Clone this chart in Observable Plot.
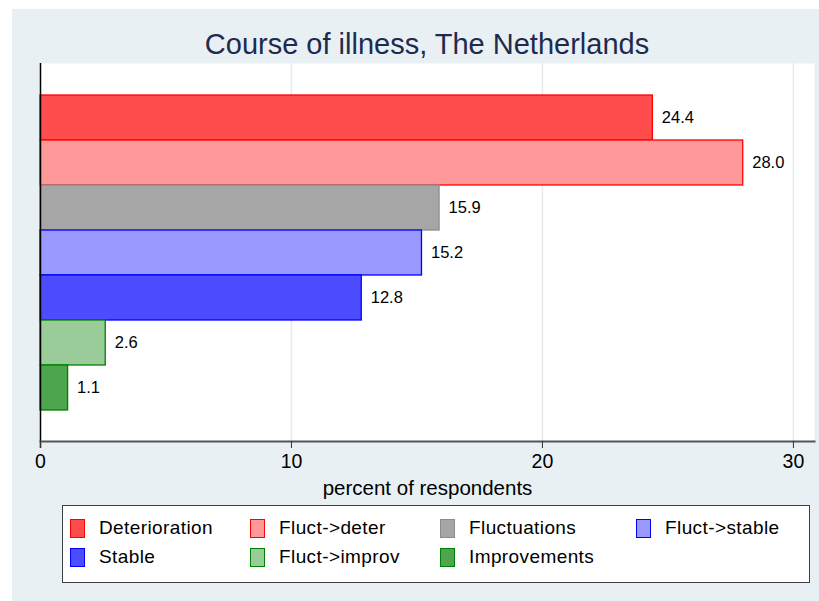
<!DOCTYPE html>
<html><head><meta charset="utf-8">
<script src="https://cdn.jsdelivr.net/npm/d3@7"></script>
<script src="https://cdn.jsdelivr.net/npm/@observablehq/plot@0.6"></script>
<style>
html,body{margin:0;padding:0;background:#fff;}
#page{position:relative;width:819px;height:601px;overflow:hidden;background:#fff;font-family:"Liberation Sans",Arial,sans-serif;}
#bg{position:absolute;left:12px;top:9px;right:0;bottom:0;background:#e8f0f3;}
#title{position:absolute;left:40px;width:774px;top:30px;line-height:29px;text-align:center;font-size:29px;color:#1e2b4f;}
#chart{position:absolute;left:0;top:0;}
#legend{position:absolute;left:62px;top:505px;width:748px;height:78px;background:#fff;border:1.5px solid #404040;box-sizing:border-box;}
.item{position:absolute;font-size:19px;letter-spacing:0.4px;color:#000;white-space:nowrap;}
.sw{position:absolute;width:15px;height:19px;box-sizing:border-box;border:1.5px solid;}
</style></head>
<body>
<div id="page">
  <div id="bg"></div>
  <div id="title">Course of illness, The Netherlands</div>
  <div id="chart"></div>
  <div id="legend"></div>
</div>
<script>
const categories = ["Deterioration","Fluct->deter","Fluctuations","Fluct->stable","Stable","Fluct->improv","Improvements"];
const values = [24.4, 28.0, 15.9, 15.2, 12.8, 2.6, 1.1];
const fills = ["#ff4d4d","#ff9999","#a6a6a6","#9999ff","#4d4dff","#99cc99","#4da64d"];
const strokes = ["#ff0000","#ff0000","#8c8c8c","#0000ff","#0000ff","#008000","#008000"];
const xTicks = [0,10,20,30];

const data = categories.map((c,i)=>({cat:c, value:values[i], fill:fills[i], stroke:strokes[i]}));

const plot = Plot.plot({
  width: 819,
  height: 510,
  marginLeft: 40,
  marginRight: 5,
  marginTop: 63,
  marginBottom: 69,
  style: {background:"transparent", fontFamily:"Liberation Sans, Arial, sans-serif"},
  x: {domain:[0, 30.84], ticks: xTicks},
  y: {domain: categories, paddingInner: 0, paddingOuter: 0.68, axis: null},
  marks: [
    Plot.frame({fill:"#fff", stroke:"none"}),
    Plot.gridX([10,20,30], {stroke:"#e3ebef", strokeOpacity:1, strokeWidth:1.5}),
    Plot.barX(data, {y:"cat", x:"value", fill:"fill", stroke:"stroke", strokeWidth:1.3}),
    Plot.text(data, {y:"cat", x:"value", text:d=>d.value.toFixed(1), dx:9, textAnchor:"start", fontSize:16.5, fill:"#000"}),
    Plot.ruleX([0], {stroke:"#000", strokeWidth:1.5, insetBottom:-7}),
    Plot.frame({anchor:"bottom", stroke:"#555", strokeWidth:2}),
    Plot.axisX(xTicks, {tickSize:7, tickPadding:6, fontSize:19.5, stroke:"#333", label:"percent of respondents", labelAnchor:"center", labelArrow:"none", labelOffset:53})
  ]
});
document.getElementById("chart").appendChild(plot);
plot.querySelectorAll('g[aria-label="x-axis label"] text').forEach(t=>t.setAttribute("font-size","20.5"));

const leg = document.getElementById("legend");
const colX = [7, 187, 377, 573];
const rowY = [11, 40];
categories.forEach((c,i)=>{
  const col = i % 4, row = Math.floor(i/4);
  const sw = document.createElement("div");
  sw.className = "sw";
  sw.style.left = colX[col] + "px";
  sw.style.top = (rowY[row]+2) + "px";
  sw.style.background = fills[i];
  sw.style.borderColor = strokes[i];
  leg.appendChild(sw);
  const t = document.createElement("div");
  t.className = "item";
  t.style.left = (colX[col]+29) + "px";
  t.style.top = rowY[row] + "px";
  t.textContent = c;
  leg.appendChild(t);
});
</script>
</body></html>
